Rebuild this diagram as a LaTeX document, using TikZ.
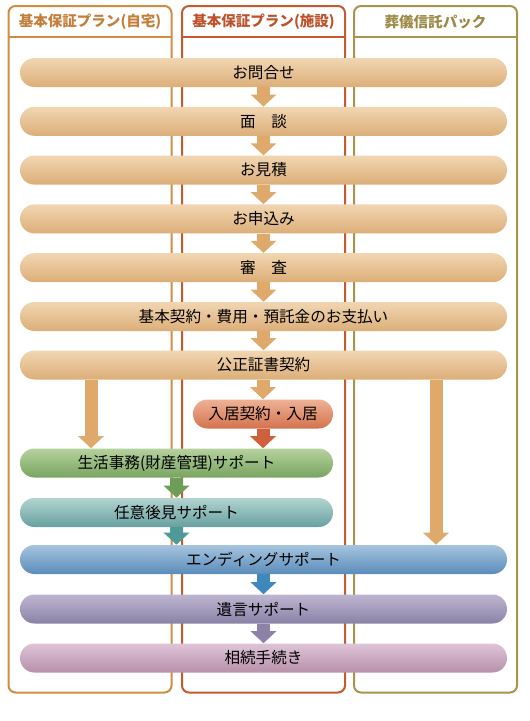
\documentclass[tikz,border=0pt]{standalone}
\usepackage{fontspec}
\usepackage{xcolor}
\usepackage{tikz}
\usetikzlibrary{arrows.meta}
\newfontfamily\jp{Noto Sans CJK JP}
\definecolor{colhome}{HTML}{D08D40}
\definecolor{colcare}{HTML}{C55A2C}
\definecolor{coltrust}{HTML}{A8944C}
\definecolor{txthome}{HTML}{C47E3A}
\definecolor{txtcare}{HTML}{BE512A}
\definecolor{txttrust}{HTML}{9C8946}
\definecolor{tantop}{HTML}{F1D6B2}
\definecolor{tanbot}{HTML}{DCAE78}
\definecolor{redtop}{HTML}{EFB296}
\definecolor{redbot}{HTML}{D2724E}
\definecolor{greentop}{HTML}{B6D29E}
\definecolor{greenbot}{HTML}{78A460}
\definecolor{tealtop}{HTML}{B2D4D0}
\definecolor{tealbot}{HTML}{68A0A0}
\definecolor{bluetop}{HTML}{A6C4DE}
\definecolor{bluebot}{HTML}{5A8CBA}
\definecolor{purpletop}{HTML}{BEB6D0}
\definecolor{purplebot}{HTML}{8A82A6}
\definecolor{pinktop}{HTML}{DEC4D6}
\definecolor{pinkbot}{HTML}{B890AC}
\colorlet{tanarrow}{tanbot!90!orange}
\definecolor{redarrow}{HTML}{D0603C}
\definecolor{greenarrow}{HTML}{6C9E58}
\definecolor{tealarrow}{HTML}{4E9A98}
\definecolor{bluearrow}{HTML}{3E88BE}
\definecolor{purplearrow}{HTML}{8C82A8}
\tikzstyle{bar} = [rectangle, rounded corners=10.8pt, minimum height=21.75pt, inner sep=0pt, font=\jp\fontsize{11.7}{13}\selectfont, text=black]
\tikzstyle{fullbar} = [bar, minimum width=365.25pt]
\tikzstyle{halfbar} = [bar, minimum width=234.75pt]
\tikzstyle{tanbar} = [fullbar, top color=tantop, bottom color=tanbot]
\tikzstyle{redbar} = [bar, minimum width=105pt, top color=redtop, bottom color=redbot]
\tikzstyle{greenbar} = [halfbar, top color=greentop, bottom color=greenbot]
\tikzstyle{tealbar} = [halfbar, top color=tealtop, bottom color=tealbot]
\tikzstyle{bluebar} = [fullbar, top color=bluetop, bottom color=bluebot]
\tikzstyle{purplebar} = [fullbar, top color=purpletop, bottom color=purplebot]
\tikzstyle{pinkbar} = [fullbar, top color=pinktop, bottom color=pinkbot]
\tikzstyle{column} = [rounded corners=5.25pt, line width=1.5pt]
\tikzstyle{headline} = [line width=1.5pt]
\tikzstyle{head} = [font=\jp\bfseries\fontsize{10.9}{13}\selectfont]
\tikzstyle{flow} = [line width=9.75pt, -{Triangle[width=18.75pt,length=9pt]}]

\begin{document}
\begin{tikzpicture}[x=0.75pt, y=-0.75pt]
\useasboundingbox (0,0) rectangle (529,721);

% Columns: plan (home), plan (facility), funeral trust pack
\draw[column, draw=colhome] (8.5,6) rectangle (171.5,692.5);
\draw[headline, draw=colhome] (8.5,36.5) -- (171.5,36.5);
\draw[column, draw=colcare] (182,6) rectangle (345,692.5);
\draw[headline, draw=colcare] (182,36.5) -- (345,36.5);
\draw[column, draw=coltrust] (354,6) rectangle (517,692.5);
\draw[headline, draw=coltrust] (354,36.5) -- (517,36.5);
% Column headers
\node[head, text=txthome] (h1) at (90,22) {基本保証プラン(自宅)};
\node[head, text=txtcare] (h2) at (263.5,22) {基本保証プラン(施設)};
\node[head, text=txttrust] (h3) at (435.5,22) {葬儀信託パック};

% Common steps
\node[tanbar] (s1) at (263.5,72.5) {お問合せ};
\node[tanbar] (s2) at (263.5,121.3) {面　談};
\node[tanbar] (s3) at (263.5,170.1) {お見積};
\node[tanbar] (s4) at (263.5,218.9) {お申込み};
\node[tanbar] (s5) at (263.5,267.7) {審　査};
\node[tanbar] (s6) at (263.5,316.5) {基本契約・費用・預託金のお支払い};
\node[tanbar] (s7) at (263.5,365) {公正証書契約};
% Plan specific steps
\node[redbar] (s8) at (263,414) {入居契約・入居};
\node[greenbar] (s9) at (176.5,463) {生活事務(財産管理)サポート};
\node[tealbar] (s10) at (176.5,512.5) {任意後見サポート};
% Final steps
\node[bluebar] (s11) at (263.5,559.5) {エンディングサポート};
\node[purplebar] (s12) at (263.5,609) {遺言サポート};
\node[pinkbar] (s13) at (263.5,658) {相続手続き};

% Arrows between steps
\foreach \a/\b in {s1/s2, s2/s3, s3/s4, s4/s5, s5/s6, s6/s7}
  \draw[flow, draw=tanarrow] (\a.south) -- (\b.north);
\coordinate (c1) at (91,0);
\coordinate (c2) at (436,0);
\draw[flow, draw=tanarrow] (s7.south -| s8) -- (s8.north);
\draw[flow, draw=tanarrow] (s7.south -| c1) -- (s9.north -| c1);
\draw[flow, draw=tanarrow] (s7.south -| c2) -- (s11.north -| c2);
\draw[flow, draw=redarrow] (s8.south) -- (s9.north -| s8);
\draw[flow, draw=greenarrow] (s9.south) -- (s10.north);
\draw[flow, draw=tealarrow] (s10.south) -- (s11.north -| s10);
\draw[flow, draw=bluearrow] (s11.south) -- (s12.north);
\draw[flow, draw=purplearrow] (s12.south) -- (s13.north);
\end{tikzpicture}
\end{document}
